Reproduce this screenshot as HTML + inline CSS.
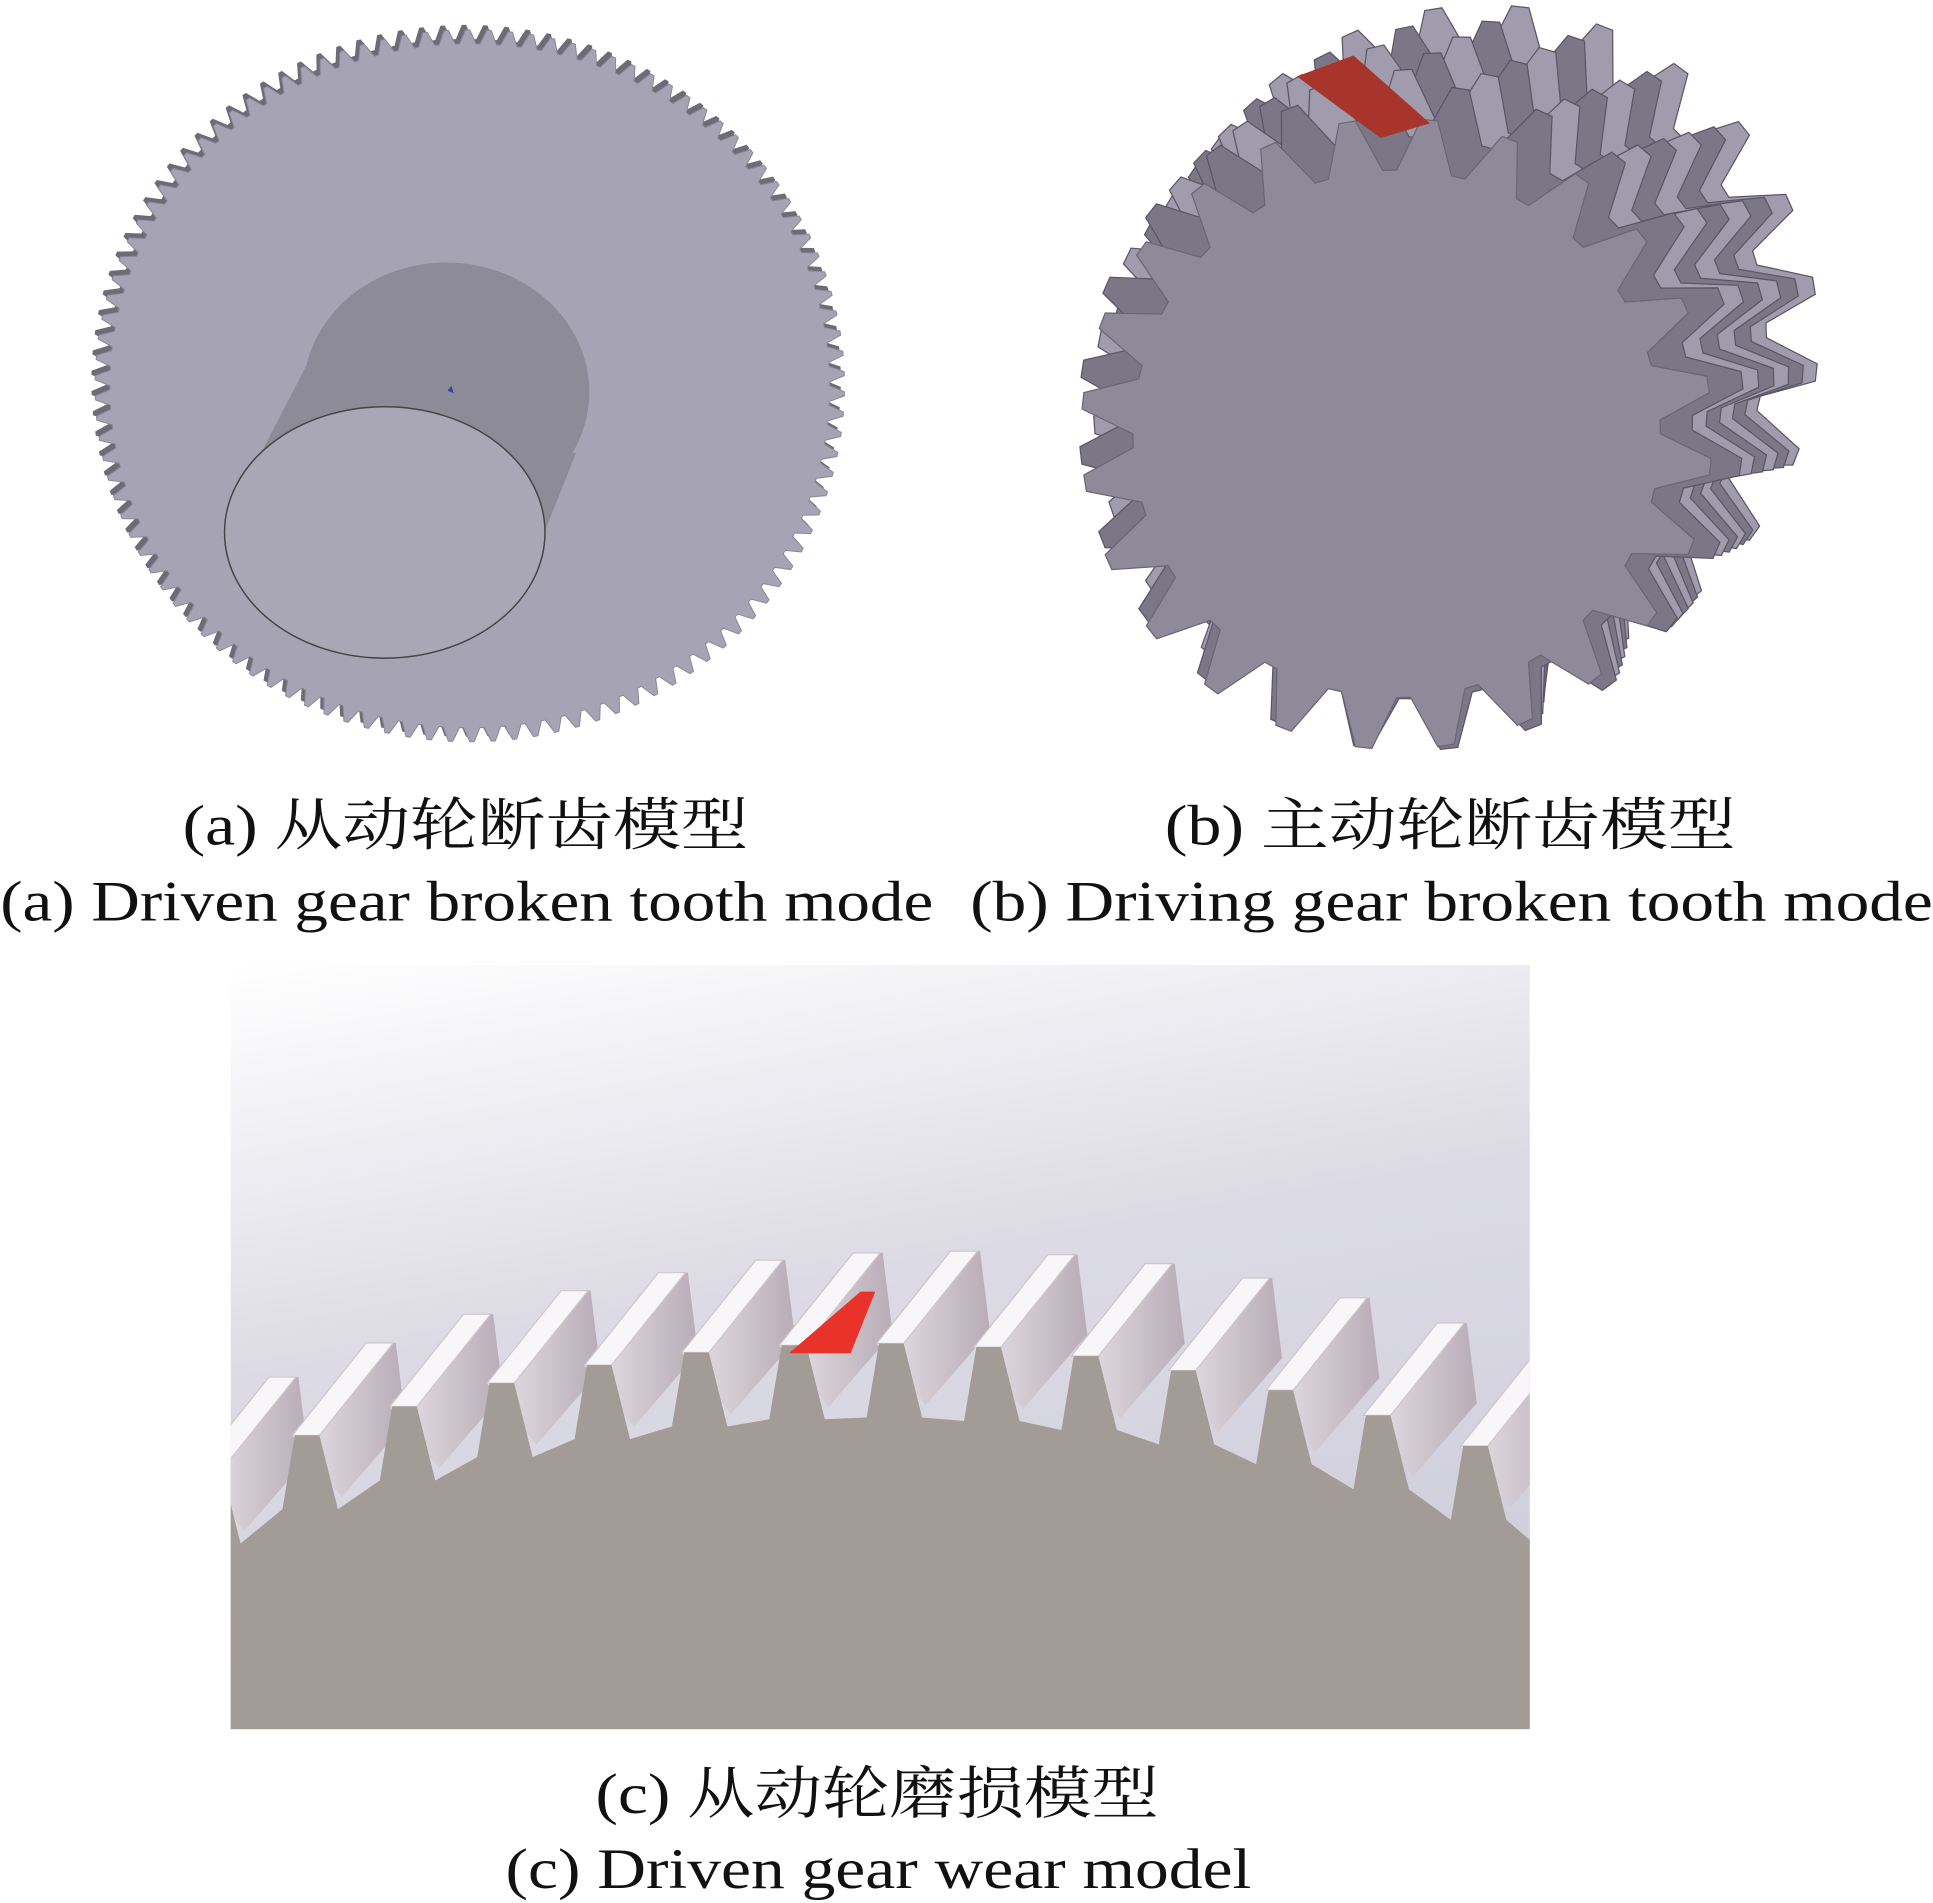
<!DOCTYPE html>
<html><head><meta charset="utf-8"><style>
html,body{margin:0;padding:0;background:#fff;}
svg{display:block}
text{font-family:"Liberation Serif","Noto Serif CJK SC",serif;fill:#111}
</style></head><body>
<svg id="s" width="1933" height="1903" viewBox="0 0 1568 1544" xmlns="http://www.w3.org/2000/svg">
<defs>
<linearGradient id="bg" x1="0" y1="0" x2="0.3" y2="1">
<stop offset="0" stop-color="#ffffff"/><stop offset="0.5" stop-color="#dcdbe5"/><stop offset="1" stop-color="#cfcedb"/>
</linearGradient>
<linearGradient id="flank" x1="0" y1="0" x2="1" y2="0">
<stop offset="0" stop-color="#e9e3e8"/><stop offset="1" stop-color="#b8acb6"/>
</linearGradient>
</defs>
<g id="ga"></g>
<path d="M 200 390 L 258 278 L 467 368 L 420 486 Z" fill="#8e8b98"/>
<ellipse cx="362" cy="318" rx="116" ry="105" fill="#8e8b98"/>
<ellipse cx="312" cy="432" rx="130" ry="102" fill="#a9a7b6" stroke="#444" stroke-width="1.2"/>
<path d="M363 317 l3 -4 l2 6 z" fill="#3344aa"/>
<g id="gb"></g>
<path d="M1052 62 L1098 45 L1160 100 L1120 112 Z" fill="#a8352c"/>
<rect x="187" y="783" width="1054" height="620" fill="url(#bg)"/>
<g id="gc"></g>
<text x="148" y="685" font-size="46" textLength="459" lengthAdjust="spacingAndGlyphs">(a)  从动轮断齿模型</text>
<text x="945" y="685" font-size="46" textLength="463" lengthAdjust="spacingAndGlyphs">(b)  主动轮断齿模型</text>
<text x="0" y="747" font-size="46" textLength="757" lengthAdjust="spacingAndGlyphs">(a)  Driven gear broken tooth mode</text>
<text x="787" y="747" font-size="46" textLength="781" lengthAdjust="spacingAndGlyphs">(b)  Driving gear broken tooth mode</text>
<text x="483" y="1471" font-size="46" textLength="457" lengthAdjust="spacingAndGlyphs">(c)  从动轮磨损模型</text>
<text x="410" y="1532" font-size="46" textLength="605" lengthAdjust="spacingAndGlyphs">(c)  Driven gear wear model</text>
</svg>
<script>
var NS="http://www.w3.org/2000/svg";
function el(p,t,a){var e=document.createElementNS(NS,t);for(var k in a)e.setAttribute(k,a[k]);p.appendChild(e);return e;}
function gear(cx,cy,ro,ri,n,sx,sy){
 var d="";for(var i=0;i<n;i++){var a0=i/n*2*Math.PI,st=2*Math.PI/n;
 var pts=[[ri,a0],[ro,a0+st*0.3],[ro,a0+st*0.5],[ri,a0+st*0.8]];
 pts.forEach(function(p,j){var x=cx+p[0]*Math.cos(p[1])*sx,y=cy+p[0]*Math.sin(p[1])*sy;d+=(i==0&&j==0?"M":"L")+x.toFixed(1)+" "+y.toFixed(1)+" ";});}
 return d+"Z";}
var ga=document.getElementById("ga");
el(ga,"path",{d:gear(381,311,304,292,110,1,0.95),fill:"#6e6b78",transform:"translate(-3,-2)"});
el(ga,"path",{d:gear(381,313,304,292,110,1,0.95),fill:"#a6a4b4",stroke:"#8a8896","stroke-width":"0.8"});
var gb=document.getElementById("gb");
var cx=1133,cy=352;
for(var k=6;k>=1;k--){var ox=cx+k*12,oy=cy-k*13;
 el(gb,"path",{d:gear(ox,oy,270,228,24,1,1),fill:k%2?"#7b7786":"#a09cad",stroke:"#5a5665","stroke-width":"1",transform:"rotate("+(k*2.5)+" "+ox+" "+oy+")"});}
el(gb,"path",{d:gear(cx,cy,256,214,24,1,1),fill:"#8e8a9a",stroke:"#6a6676","stroke-width":"1"});
var gc=document.getElementById("gc");
var teeth=[];
function ry(x){return 1110+Math.pow((x-690)/560,2)*110;}
for(var x=150;x<1300;x+=79){teeth.push(x);}
var cp=el(gc,"clipPath",{id:"cc"});el(cp,"rect",{x:187,y:783,width:1054,height:620});
var g2=el(gc,"g",{"clip-path":"url(#cc)"});
teeth.forEach(function(x){var y=ry(x);
 el(g2,"path",{d:"M"+(x+8)+" "+(y-20)+" L"+(x+68)+" "+(y-95)+" L"+(x+92)+" "+(y-95)+" L"+(x+100)+" "+(y-30)+" L"+(x+48)+" "+(y+30)+" Z",fill:"url(#flank)"});
 el(g2,"path",{d:"M"+(x+8)+" "+(y-20)+" L"+(x+68)+" "+(y-95)+" L"+(x+90)+" "+(y-95)+" L"+(x+30)+" "+(y-20)+" Z",fill:"#f8f6f8",stroke:"#cfc6cd","stroke-width":"1"});
});
var d="M187 1403 ";
teeth.forEach(function(x){var y=ry(x);d+="L"+x+" "+(y+40)+" L"+(x+10)+" "+(y-20)+" L"+(x+30)+" "+(y-20)+" L"+(x+45)+" "+(y+40)+" ";});
d+="L1241 1403 Z";
el(g2,"path",{d:d,fill:"#a39b96"});
el(g2,"path",{d:"M640 1098 L698 1048 L710 1048 L690 1098 Z",fill:"#e8322a"});
</script>
</body></html>
